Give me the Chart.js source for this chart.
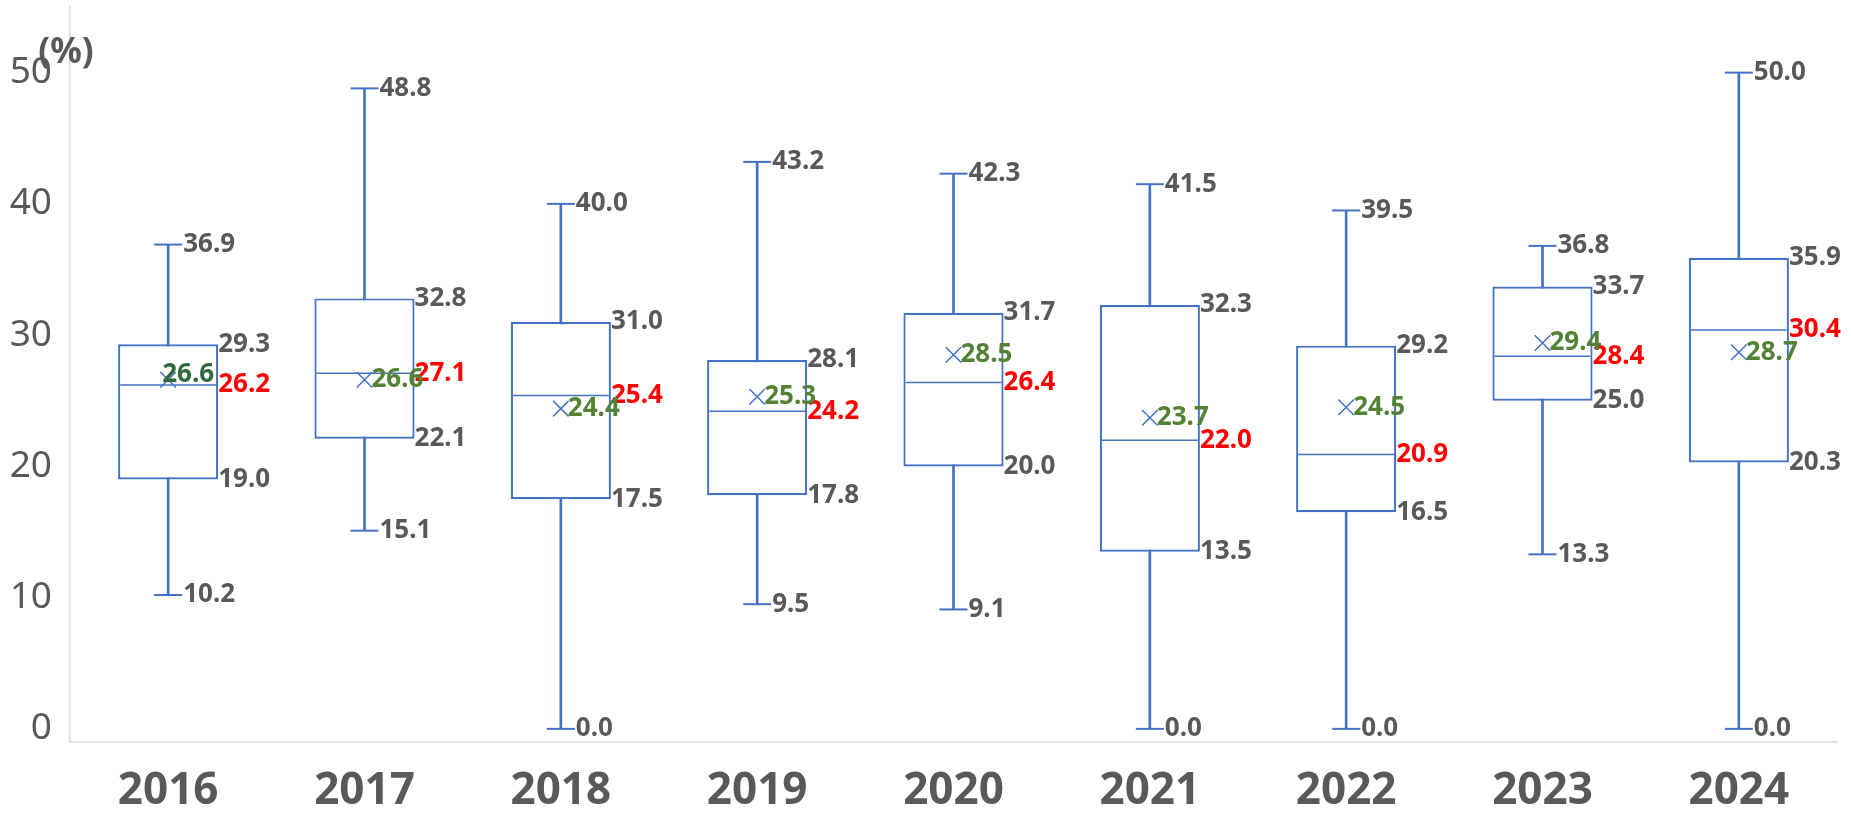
<!DOCTYPE html>
<html>
<head>
<meta charset="utf-8">
<script src="https://cdn.jsdelivr.net/npm/chart.js@4/dist/chart.umd.min.js"></script>
<style>
  html, body { margin: 0; padding: 0; background: #ffffff; }
  #wrap { width: 1851px; height: 814px; position: relative; }
</style>
</head>
<body>
<div id="wrap"><canvas id="c" width="1851" height="814"></canvas></div>
<script>
const years = ['2016', '2017', '2018', '2019', '2020', '2021', '2022', '2023', '2024'];
const maxVals = [36.9, 48.8, 40.0, 43.2, 42.3, 41.5, 39.5, 36.8, 50.0];
const q3Vals = [29.3, 32.8, 31.0, 28.1, 31.7, 32.3, 29.2, 33.7, 35.9];
const medianVals = [26.2, 27.1, 25.4, 24.2, 26.4, 22.0, 20.9, 28.4, 30.4];
const meanVals = [26.6, 26.6, 24.4, 25.3, 28.5, 23.7, 24.5, 29.4, 28.7];
const q1Vals = [19.0, 22.1, 17.5, 17.8, 20.0, 13.5, 16.5, 25.0, 20.3];
const minVals = [10.2, 15.1, 0.0, 9.5, 9.1, 0.0, 0.0, 13.3, 0.0];
const yTicks = [0, 10, 20, 30, 40, 50];
const yUnit = '(%)';

const BLUE = '#4472C4';
const GREY = '#595959';
const RED = '#FF0000';
const GREEN = '#548235';
const FONT = '"Noto Sans", "Open Sans", sans-serif';

const boxData = years.map((_, i) => [q1Vals[i], q3Vals[i]]);
const whiskerData = years.map((_, i) => [minVals[i], maxVals[i]]);

const labelPlugin = {
  id: 'boxLabels',
  afterDatasetsDraw(chart) {
    const ctx = chart.ctx;
    const xs = chart.scales.x, ys = chart.scales.y;
    const boxMeta = chart.getDatasetMeta(1);
    ctx.save();
    ctx.textBaseline = 'middle';
    ctx.textAlign = 'left';
    ctx.font = 'bold 26px ' + FONT;
    years.forEach((_, i) => {
      const xc = xs.getPixelForValue(i);
      const half = boxMeta.data[i].width / 2;
      const boxRight = xc + half;
      const put = (txt, x, v, color, dy) => {
        ctx.fillStyle = color;
        ctx.fillText(txt, x, ys.getPixelForValue(v) + (dy || 0));
      };
      put(maxVals[i].toFixed(1), xc + 15, maxVals[i], GREY);
      put(minVals[i].toFixed(1), xc + 15, minVals[i], GREY);
      put(q3Vals[i].toFixed(1), boxRight, q3Vals[i], GREY);
      put(q1Vals[i].toFixed(1), boxRight, q1Vals[i], GREY);
      put(medianVals[i].toFixed(1), boxRight, medianVals[i], RED);
      if (i === 0) {
        put(meanVals[i].toFixed(1), xc - 6, meanVals[i], '#2F6A3B', -5);
      } else {
        put(meanVals[i].toFixed(1), xc + 7, meanVals[i], GREEN);
      }
    });
    ctx.font = 'bold 35px ' + FONT;
    ctx.textAlign = 'center';
    ctx.fillStyle = GREY;
    ctx.fillText(yUnit, 66, 53);
    ctx.restore();
  }
};

new Chart(document.getElementById('c'), {
  type: 'bar',
  data: {
    labels: years,
    datasets: [
      {
        type: 'bar', label: 'whisker', data: whiskerData, order: 5,
        backgroundColor: BLUE, borderWidth: 0, barThickness: 2, grouped: false
      },
      {
        type: 'bar', label: 'box', data: boxData, order: 4,
        backgroundColor: '#ffffff', borderColor: BLUE, borderWidth: 2.2, borderSkipped: false,
        barPercentage: 0.51, categoryPercentage: 1, grouped: false
      },
      {
        type: 'line', label: 'max', data: maxVals, order: 3, showLine: false,
        pointStyle: 'line', pointRadius: 14, pointBorderWidth: 2, pointBorderColor: BLUE, borderColor: BLUE
      },
      {
        type: 'line', label: 'min', data: minVals, order: 3, showLine: false,
        pointStyle: 'line', pointRadius: 14, pointBorderWidth: 2, pointBorderColor: BLUE, borderColor: BLUE
      },
      {
        type: 'line', label: 'median', data: medianVals, order: 2, showLine: false,
        pointStyle: 'line', pointRadius: 48, pointBorderWidth: 1.5, pointBorderColor: BLUE, borderColor: BLUE
      },
      {
        type: 'line', label: 'mean', data: meanVals, order: 1, showLine: false,
        pointStyle: 'crossRot', pointRadius: 11, pointBorderWidth: 1.5, pointBorderColor: BLUE, borderColor: BLUE
      }
    ]
  },
  options: {
    responsive: false,
    animation: false,
    events: [],
    layout: { autoPadding: false, padding: { top: 7, right: 14, left: 0, bottom: 0 } },
    plugins: { legend: { display: false }, tooltip: { enabled: false } },
    scales: {
      x: {
        offset: true,
        grid: { display: false, drawTicks: false },
        border: { display: true, color: '#D9D9D9', width: 1.5 },
        ticks: { color: GREY, font: { family: FONT, size: 44, weight: 'bold' }, padding: 23, maxRotation: 0 },
        afterFit(scale) { scale.height = 72; scale.paddingLeft = 0; scale.paddingRight = 0; }
      },
      y: {
        min: -1, max: 55,
        grid: { display: false, drawTicks: false },
        border: { display: true, color: '#D9D9D9', width: 1.5 },
        ticks: { color: GREY, font: { family: FONT, size: 37 }, padding: 18 },
        afterBuildTicks(scale) { scale.ticks = yTicks.map(v => ({ value: v })); },
        afterFit(scale) { scale.width = 70; scale.paddingTop = 0; scale.paddingBottom = 0; }
      }
    }
  },
  plugins: [labelPlugin]
});
</script>
</body>
</html>
